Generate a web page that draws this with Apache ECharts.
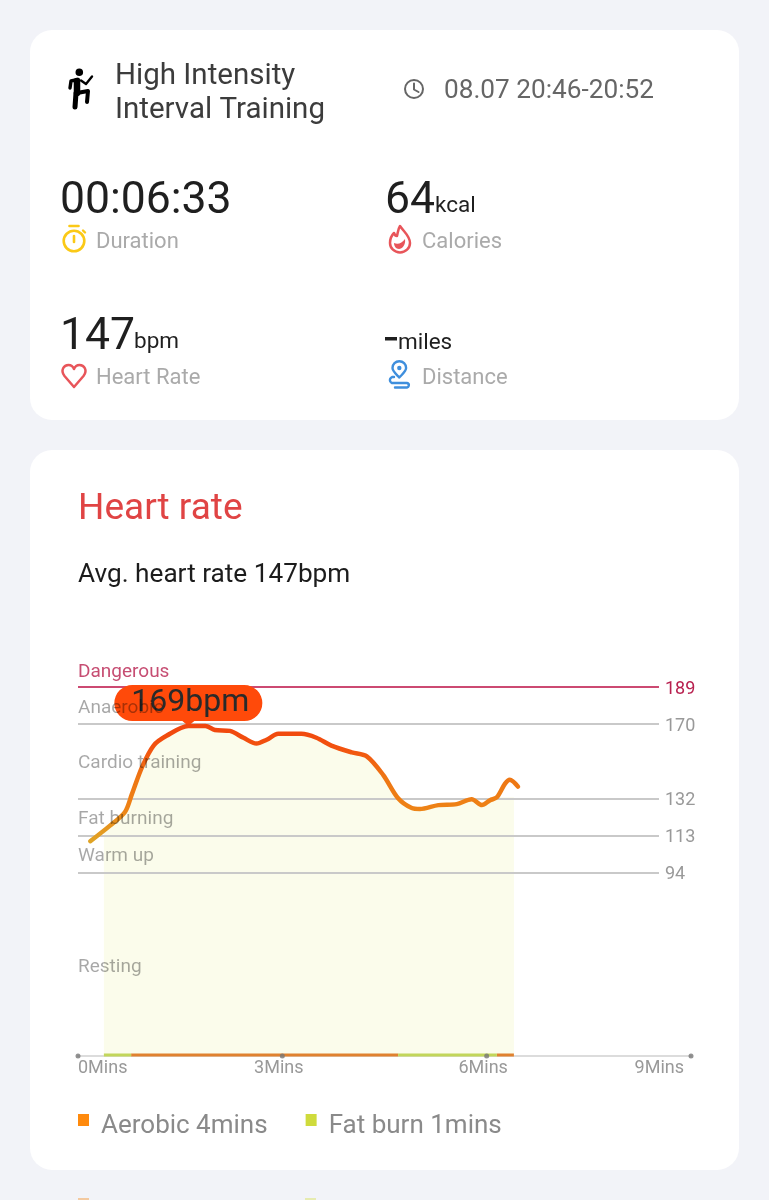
<!DOCTYPE html>
<html>
<head>
<meta charset="utf-8">
<style>html,body{margin:0;padding:0;background:#f2f3f8}#c{width:769px;height:1200px}</style>
<script src="https://cdn.jsdelivr.net/npm/echarts@6/dist/echarts.min.js"></script>
</head>
<body>
<div id="c"></div>
<script>
const minutes = [0.18,0.47,0.69,0.79,0.94,1.11,1.30,1.62,1.87,2.01,2.23,2.43,2.62,2.77,2.94,3.28,3.50,3.72,4.02,4.24,4.48,4.70,4.90,5.02,5.29,5.56,5.78,5.93,6.05,6.15,6.27,6.34,6.46];
const bpm = [110,118,125,134,148,159,164,169,169,167,166.5,163,160,162,165,165,163,159,155.5,153.5,144,132,127,126.5,128.5,129,131.5,128.5,131,132.5,139.5,141.5,138];
const zoneNames = ['Dangerous','Anaerobic','Cardio training','Fat burning','Warm up','Resting'];
const zoneLabelAt = [197.5,179,151,122.5,103.5,46.5];
const zoneLimits = [189,170,132,113,94];
const xTicks = [0,3,6,9];
const aerobicSpans = [[0.78,4.70],[6.15,6.40]];
const fatBurnSpans = [[0.38,0.78],[4.70,6.15]];
const legendNames = ['Aerobic 4mins','Fat burn 1mins'];
const peakIndex = 7;
const FONT = 'Roboto';

function spans(list){
  const out = [];
  list.forEach(s => { out.push([s[0],0.5],[s[1],0.5],['-','-']); });
  return out;
}
const curve = minutes.map((m,i)=>[m,bpm[i]]);
const fillData = [[0.38,114]].concat(curve.filter(p=>p[0]>=0.38 && p[0]<=6.15)).concat([[6.40,132.5]]);

const T = (text,x,y,size,fill,extra) => ({type:'text',silent:true,style:Object.assign({text,x,y:y+0.1*size,fontSize:size,fill,fontFamily:FONT,verticalAlign:'middle',align:'left'},extra||{})});
const P = (d,stroke,w,fill) => ({type:'path',silent:true,shape:{pathData:d},style:{fill:fill||'none',stroke:stroke||'none',lineWidth:w||0,lineCap:'round',lineJoin:'round'}});
const C = (cx,cy,r,stroke,w,fill) => ({type:'circle',silent:true,shape:{cx,cy,r},style:{fill:fill||'none',stroke:stroke||'none',lineWidth:w||0}});
const L = (pts,w,color) => ({type:'polyline',silent:true,shape:{points:pts},style:{stroke:color,lineWidth:w,fill:'none',lineCap:'round',lineJoin:'round'}});
const R = (x,y,w,h,r,fill) => ({type:'rect',silent:true,shape:{x,y,width:w,height:h,r},style:{fill}});

const YEL='#fbc916', RED='#e8555a', BLU='#3f8fdd', GRY='#aaaaaa', DK='#1f1f1f';
const graphics = [
  R(30,30,709,390,22,'#ffffff'),
  R(30,450,709,720,22,'#ffffff'),
  R(78,1198,11,2,0,'#f3c9a0'),
  R(305,1198,11,2,0,'#e6ebb0'),
  T('High Intensity',115,74,29.5,'#3c3c3c'),
  T('Interval Training',115,108,29.5,'#3c3c3c'),
  T('08.07 20:46-20:52',444,89,26.2,'#666666'),
  T('00:06:33',60,197,44.5,DK),
  T('Duration',96,240,22,GRY),
  T('64',385,197,44.5,DK),
  T('kcal',435,204,22.5,DK),
  T('Calories',422,240,22,GRY),
  T('147',60,333,44.5,DK),
  T('bpm',134,340,22.5,DK),
  T('Heart Rate',96,376,22,GRY),
  R(385,337,12,3.5,0,DK),
  T('miles',398,341,22.5,DK),
  T('Distance',422,376,22,GRY),
  T('Heart rate',78,506,37,'#e04444'),
  T('Avg. heart rate 147bpm',78,573,26.2,'#1c1c1c')
];
const icons = [
  C(79.3,72.3,3.8,null,0,'#000'),
  L([[70,88],[71,81],[78,79.5]],3.4,'#000'),
  L([[77,81],[77,93]],6.5,'#000'),
  L([[81,80.5],[86,84],[92,76.5]],2.4,'#000'),
  L([[77,93],[88,91],[87,102]],4,'#000'),
  L([[76,93],[75,107]],5,'#000'),
  C(414,89,9,'#666',2),
  L([[414,83.5],[414,89.5],[418.5,92]],2,'#666'),
  C(74,241,10.3,YEL,2.6),
  L([[69.5,226],[78.5,226]],2.6,YEL),
  L([[74,236],[74,242]],2.6,YEL),
  L([[83,230.5],[85,232.5]],2.4,YEL),
  P('M400 226 C404 232 410 236 410 243 A10 9.5 0 0 1 390 243 C390 238 392 235 394 233 C395 236 397 236 397 236 C398 232 398 229 400 226 Z',RED,2.5),
  P('M394 243 C398 245 402 243 405 239 C406 245 402 249 399 249 C396 249 394 246 394 243 Z',null,0,RED),
  P('M74 387 L64.5 376 C60 370 64 365 68.5 365 C71 365 73 366.5 74 369 C75 366.5 77 365 79.5 365 C84 365 88 370 83.5 376 Z',RED,2.5),
  P('M399.3 377.5 C395 373 392.5 371 392.5 368 A6.8 6.8 0 0 1 406.1 368 C406.1 371 403.5 373 399.3 377.5 Z',BLU,2.4),
  C(399.3,368,2.2,null,0,BLU),
  P('M394 377 H392 A3.2 3.2 0 0 0 392 383 H407 A2.3 2.3 0 0 1 407 387.5 H395',BLU,2.4)
];
const LEGEND_ICON = 'path://M0 0H11V12H0ZM0 24L0 24';

const chart = echarts.init(document.getElementById('c'),null,{width:769,height:1200});
chart.setOption({
  animation:false,
  backgroundColor:'#f2f3f8',
  textStyle:{fontFamily:FONT},
  graphic:{elements:graphics.map(g=>Object.assign({z:-10},g))},
  grid:{left:78,top:646,width:613,height:410,containLabel:false},
  xAxis:{type:'value',min:0,max:9,interval:3,
    axisLine:{show:true,lineStyle:{color:'#dcdcdc',width:2}},
    axisTick:{show:false},splitLine:{show:false},
    axisLabel:{color:'#999999',fontSize:18,fontFamily:FONT,margin:3,alignMinLabel:'left',alignMaxLabel:'right',
      formatter:v=> v===xTicks[3] ? '{e|'+v+'Mins}' : (v===xTicks[0] ? v+'Mins' : '{m|'+v+'Mins}'),
      rich:{e:{padding:[0,7,0,0],fontSize:18,color:'#999999',fontFamily:FONT},
            m:{padding:[0,7,0,0],fontSize:18,color:'#999999',fontFamily:FONT}}}},
  yAxis:{type:'value',min:0,max:210,show:false,splitLine:{show:false}},
  legend:{left:78,top:1113,padding:0,itemWidth:11,itemHeight:24,itemGap:38,
    selectedMode:false,
    textStyle:{fontSize:26,color:'#8a8a8a',fontFamily:FONT,padding:[0,0,0,7]},
    data:[{name:legendNames[0],icon:LEGEND_ICON,itemStyle:{color:'#ff8a0d'}},
          {name:legendNames[1],icon:LEGEND_ICON,itemStyle:{color:'#cfdb3c'}}]},
  series:[
    {type:'custom',name:'icons',coordinateSystem:'none',silent:true,z:1,data:[0],
      renderItem:()=>({type:'group',children:icons})},
    {type:'line',name:'fill',z:1,data:fillData,smooth:0.3,showSymbol:false,silent:true,
      lineStyle:{width:0},areaStyle:{color:'#fbfceb',opacity:1}},
    {type:'line',name:'zones',z:2,data:[],silent:true,
      markLine:{silent:true,symbol:'none',animation:false,
        data:zoneLimits.map((v,i)=>{
          const c = i===0 ? '#cc4a72' : '#c9c9c9';
          const tc = i===0 ? '#b8204f' : '#999999';
          return [{coord:[0,v],lineStyle:{color:c,width:2,type:'solid'},
                   label:{show:true,position:'end',distance:6,offset:[0,2],formatter:String(v),color:tc,fontSize:18,fontFamily:FONT}},
                  {coord:[8.53,v]}];
        })}},
    {type:'line',name:legendNames[0],z:4,data:spans(aerobicSpans),showSymbol:false,silent:true,
      itemStyle:{color:'#ff8a0d'},lineStyle:{color:'#e0812f',width:3}},
    {type:'line',name:legendNames[1],z:4,data:spans(fatBurnSpans),showSymbol:false,silent:true,
      itemStyle:{color:'#cfdb3c'},lineStyle:{color:'#c2d65a',width:3}},
    {type:'scatter',name:'ticks',z:5,silent:true,symbolSize:5,itemStyle:{color:'#777777'},
      data:xTicks.map(t=>[t,0])},
    {type:'line',name:'heart',z:6,data:curve,smooth:0.3,showSymbol:false,silent:true,
      lineStyle:{width:4.5,cap:'round',color:new echarts.graphic.LinearGradient(0,0,0,1,[
        {offset:0,color:'#f0450e'},{offset:0.2,color:'#f2520f'},{offset:0.45,color:'#ee7614'},{offset:0.7,color:'#ee8216'},{offset:1,color:'#dfa626'}])},
      markPoint:{silent:true,animation:false,
        data:[{coord:[minutes[peakIndex],bpm[peakIndex]],
          symbol:'path://M18 0H130A18 18 0 0 1 130 36H80L74 41L68 36H18A18 18 0 0 1 18 0Z',
          symbolSize:[148,41],symbolOffset:[0,-20.5],symbolKeepAspect:false,
          itemStyle:{color:'#ff4a0a'},
          label:{show:true,position:'inside',offset:[2,-3],formatter:bpm[peakIndex]+'bpm',fontSize:32,color:'#2a2a2a',fontFamily:FONT}}]}},
    {type:'scatter',name:'labels',z:20,silent:true,symbolSize:0,
      data:zoneNames.map((n,i)=>({value:[0,zoneLabelAt[i]],name:n,
        label:{show:true,position:'right',distance:0,offset:[0,2],formatter:n,fontSize:19,fontFamily:FONT,
          color:i===0?'#b8204f':'rgba(0,0,0,0.43)'}}))}
  ]
});
</script>
</body>
</html>
